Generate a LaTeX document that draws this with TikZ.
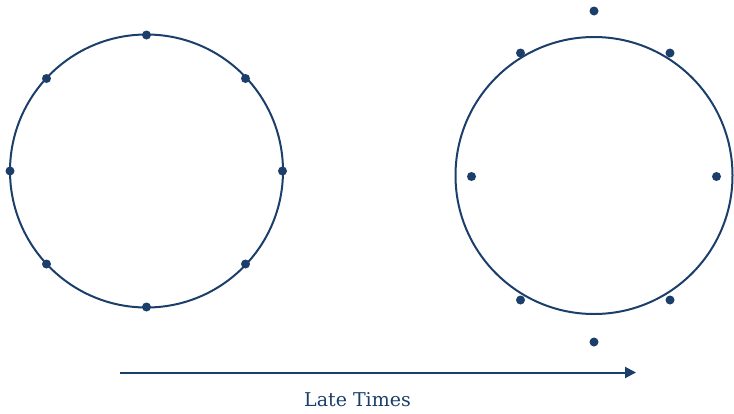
\documentclass[tikz,border=0pt]{standalone}
\usepackage{fontspec}
\setmainfont{DejaVu Serif}
\usetikzlibrary{arrows.meta}
\definecolor{ink}{HTML}{1B3F6A}
\begin{document}
\begin{tikzpicture}[x=1pt,y=-1pt,
  ring/.style={draw=ink,line width=2pt},
  dot/.style={circle,fill=ink,inner sep=0pt,minimum size=9pt}]
\useasboundingbox (0,0) rectangle (734,413);
% left circle
\node[ring,circle,minimum size=273pt,inner sep=0pt] (L) at (146.5,171) {};
\foreach \n/\x/\y in {l1/146.5/35, l2/46.5/78.5, l3/245.5/78.5, l4/10/171, l5/282.5/171, l6/46.5/264, l7/245.5/264, l8/146.5/307}
  \node[dot] (\n) at (\x,\y) {};
% right circle
\node[ring,circle,minimum size=277pt,inner sep=0pt] (R) at (594,175.5) {};
\foreach \n/\x/\y in {r1/594/11, r2/520.5/53, r3/670/53, r4/471.5/176.5, r5/716.5/176.5, r6/520.5/300, r7/670/300, r8/594/342}
  \node[dot] (\n) at (\x,\y) {};
% arrow
\coordinate (a0) at (120,372.5);
\coordinate (a1) at (636,372.5);
\draw[ink,line width=2pt,-{Triangle[length=11pt,width=11pt]}] (a0) -- (a1);
\node[text=ink,font=\fontsize{19}{22}\selectfont] (lbl) at (357.5,400) {Late Times};
\end{tikzpicture}
\end{document}
